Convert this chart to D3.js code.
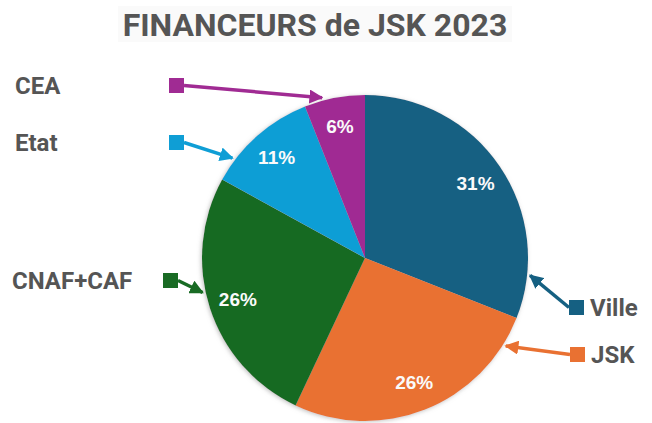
<!DOCTYPE html>
<html>
<head>
<meta charset="utf-8">
<script src="https://cdn.jsdelivr.net/npm/d3@7"></script>
<style>
  body { margin: 0; background: #fff; }
  svg { display: block; font-family: Roboto, "Liberation Sans", sans-serif; }
</style>
</head>
<body>
<script>
// data
const labels = ["Ville", "JSK", "CNAF+CAF", "Etat", "CEA"];
const values = [31, 26, 26, 11, 6];
const colors = ["#156082", "#e97132", "#196b24", "#0f9ed5", "#a02b93"];

// legend layout: square position, text side, arrow angle on the pie edge (deg)
const legendLayout = [
  { sx: 569, sy: 300, side: "right", angle: 96 },
  { sx: 570, sy: 347, side: "right", angle: 122 },
  { sx: 163, sy: 273, side: "left", tx: 12, angle: 258 },
  { sx: 169, sy: 135, side: "left", tx: 15, angle: 307 },
  { sx: 169, sy: 78, side: "left", tx: 15, angle: 345 }
];

const width = 652, height = 423;
const cx = 365, cy = 258, R = 163;

const svg = d3.select("body").append("svg")
  .attr("width", width)
  .attr("height", height);

const defs = svg.append("defs");

// soft grey halo round the pie
const f = defs.append("filter").attr("id", "halo")
  .attr("x", "-10%").attr("y", "-10%").attr("width", "120%").attr("height", "120%");
f.append("feDropShadow")
  .attr("dx", -1).attr("dy", 1)
  .attr("stdDeviation", 2)
  .attr("flood-color", "#999")
  .attr("flood-opacity", 0.6);

// arrow markers per colour
colors.forEach((c, i) => {
  defs.append("marker")
    .attr("id", "arr" + i)
    .attr("viewBox", "0 0 10 10")
    .attr("refX", 9).attr("refY", 5)
    .attr("markerWidth", 4).attr("markerHeight", 4)
    .attr("markerUnits", "strokeWidth")
    .attr("orient", "auto")
    .append("path")
    .attr("d", "M0,0 L10,5 L0,10 Z")
    .attr("fill", c);
});

// title
svg.append("rect")
  .attr("x", 118).attr("y", 6).attr("width", 394).attr("height", 36)
  .attr("fill", "#fafafa");
svg.append("text")
  .attr("x", 315).attr("y", 36)
  .attr("text-anchor", "middle")
  .attr("font-size", 32)
  .attr("font-weight", "bold")
  .attr("fill", "#555")
  .text("FINANCEURS de JSK 2023");

// pie
const pie = d3.pie().sort(null).value(d => d)(values);
const arc = d3.arc().innerRadius(0).outerRadius(R);
const labelArc = d3.arc().innerRadius(R * 0.82).outerRadius(R * 0.82);

const g = svg.append("g").attr("transform", `translate(${cx},${cy})`);

g.append("g").attr("filter", "url(#halo)")
  .selectAll("path")
  .data(pie)
  .enter()
  .append("path")
  .attr("d", arc)
  .attr("fill", (d, i) => colors[i]);

g.selectAll(".pct")
  .data(pie)
  .enter()
  .append("text")
  .attr("class", "pct")
  .attr("transform", d => `translate(${labelArc.centroid(d)})`)
  .attr("dy", "0.35em")
  .attr("text-anchor", "middle")
  .attr("font-family", "'Liberation Sans', Arial, sans-serif")
  .attr("font-size", 19)
  .attr("font-weight", "bold")
  .attr("fill", "#fafafa")
  .text(d => d.data + "%");

// legend: squares, arrows, labels
const sq = 15;
legendLayout.forEach((l, i) => {
  const a = l.angle * Math.PI / 180;
  const tipX = cx + (R + 3) * Math.sin(a);
  const tipY = cy - (R + 3) * Math.cos(a);
  const startX = l.side === "left" ? l.sx + sq : l.sx;
  const startY = l.sy + sq / 2;

  svg.append("line")
    .attr("x1", startX).attr("y1", startY)
    .attr("x2", tipX).attr("y2", tipY)
    .attr("stroke", colors[i])
    .attr("stroke-width", 3.5)
    .attr("marker-end", `url(#arr${i})`);

  svg.append("rect")
    .attr("x", l.sx).attr("y", l.sy)
    .attr("width", sq).attr("height", sq)
    .attr("fill", colors[i]);

  svg.append("text")
    .attr("x", l.side === "left" ? l.tx : l.sx + sq + 6)
    .attr("y", l.sy + sq / 2)
    .attr("dy", "0.36em")
    .attr("font-size", 24)
    .attr("font-weight", "bold")
    .attr("fill", "#555")
    .text(labels[i]);
});
</script>
</body>
</html>
